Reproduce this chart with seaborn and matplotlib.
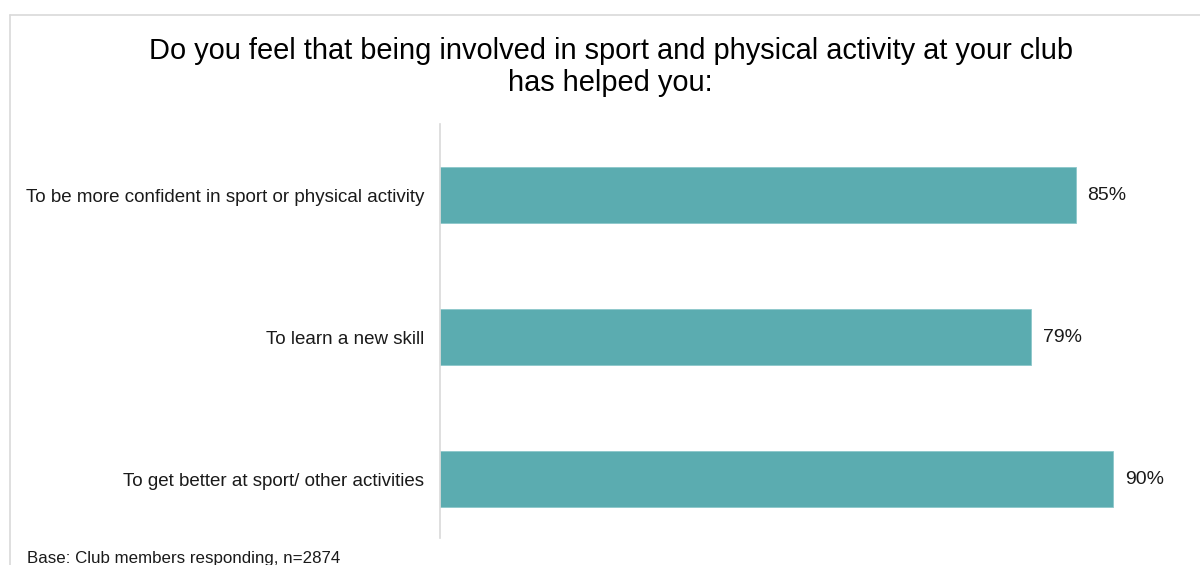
import matplotlib
matplotlib.use("Agg")
import matplotlib.pyplot as plt
from matplotlib.lines import Line2D
import pandas as pd
import seaborn as sns

# Survey responses
statements = [
    "To be more confident in sport or physical activity",
    "To learn a new skill",
    "To get better at sport/ other activities",
]
percent_yes = [85, 79, 90]
value_labels = ["85%", "79%", "90%"]

title_text = ("Do you feel that being involved in sport and physical activity at your club\n"
              "has helped you:")
base_note = "Base: Club members responding, n=2874"

sns.set_theme(style="white")
plt.rcParams["font.family"] = ["Liberation Sans", "DejaVu Sans"]

df = pd.DataFrame({"statement": statements, "percent": percent_yes})

fig = plt.figure(figsize=(12, 5.65), dpi=100)
ax = fig.add_axes([440 / 1200, 1 - 538 / 565, 748 / 1200, 414 / 565])

sns.barplot(data=df, x="percent", y="statement", orient="h", color="#5BACB0",
            saturation=1, width=0.4, edgecolor="#8CC7CA", linewidth=0.6, ax=ax)

ax.set_xlim(0, 100)
ax.set_ylim(2.415, -0.5)
ax.set_xlabel("")
ax.set_ylabel("")
ax.set_xticks([])
ax.tick_params(axis="y", length=0, pad=11.5, labelsize=13.5, labelcolor="#1a1a1a")
for side in ["top", "right", "bottom"]:
    ax.spines[side].set_visible(False)
ax.spines["left"].set_color("#d9d9d9")
ax.spines["left"].set_linewidth(1.2)

for container in ax.containers:
    ax.bar_label(container, labels=value_labels, padding=8.5, fontsize=14, color="#1a1a1a")

fig.text(0.509, 1 - 67 / 565, title_text, ha="center", va="center", fontsize=20.9,
         color="black", linespacing=1.18)
fig.text(27 / 1200, 1 - 558 / 565, base_note, ha="left", va="center", fontsize=12.2,
         color="#1a1a1a")

# Slide frame edges
fig.add_artist(Line2D([10 / 1200, 1], [1 - 15 / 565, 1 - 15 / 565], color="#d9d9d9", lw=1.2,
                      transform=fig.transFigure))
fig.add_artist(Line2D([10 / 1200, 10 / 1200], [0, 1 - 15 / 565], color="#d9d9d9", lw=1.2,
                      transform=fig.transFigure))

fig.savefig("out.png", dpi=100)
